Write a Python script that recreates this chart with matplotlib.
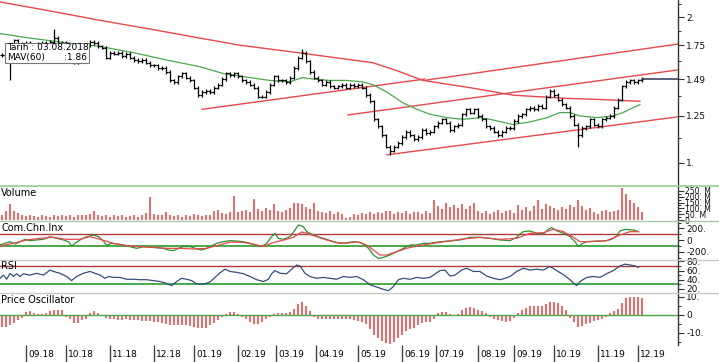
import numpy as np
import matplotlib
matplotlib.use("Agg")
import matplotlib.pyplot as plt
from matplotlib.lines import Line2D
from matplotlib.patches import Rectangle
from matplotlib.ticker import NullFormatter

# ---------------- data (one value every 2nd trading day) ----------------
close = [
    1.67, 1.71, 1.75, 1.79, 1.75, 1.76, 1.77, 1.74,
    1.73, 1.76, 1.77, 1.76, 1.78, 1.81, 1.77, 1.77,
    1.73, 1.67, 1.61, 1.67, 1.71, 1.75, 1.78, 1.77,
    1.74, 1.73, 1.65, 1.69, 1.68, 1.69, 1.66, 1.68,
    1.65, 1.63, 1.62, 1.63, 1.61, 1.59, 1.59, 1.57,
    1.57, 1.54, 1.48, 1.47, 1.51, 1.53, 1.50, 1.48,
    1.43, 1.38, 1.40, 1.41, 1.40, 1.43, 1.45, 1.49,
    1.53, 1.52, 1.53, 1.51, 1.48, 1.47, 1.45, 1.43,
    1.37, 1.37, 1.40, 1.45, 1.51, 1.48, 1.48, 1.47,
    1.50, 1.57, 1.65, 1.69, 1.62, 1.54, 1.50, 1.48,
    1.45, 1.47, 1.44, 1.43, 1.44, 1.45, 1.43, 1.45,
    1.44, 1.45, 1.43, 1.38, 1.34, 1.23, 1.19, 1.14,
    1.08, 1.06, 1.08, 1.10, 1.13, 1.16, 1.14, 1.12,
    1.13, 1.17, 1.15, 1.16, 1.19, 1.21, 1.23, 1.21,
    1.17, 1.19, 1.20, 1.26, 1.29, 1.27, 1.29, 1.25,
    1.23, 1.19, 1.18, 1.16, 1.14, 1.16, 1.18, 1.18,
    1.22, 1.25, 1.26, 1.29, 1.30, 1.29, 1.31, 1.30,
    1.37, 1.41, 1.38, 1.35, 1.32, 1.30, 1.25, 1.20,
    1.14, 1.18, 1.19, 1.23, 1.20, 1.19, 1.23, 1.24,
    1.25, 1.30, 1.35, 1.44, 1.47, 1.48, 1.47, 1.48,
    1.49]

volume_m = [
    45, 80, 135, 75, 60, 40, 35, 40,
    35, 30, 40, 35, 30, 40, 35, 45,
    35, 40, 30, 40, 45, 40, 50, 80,
    45, 35, 40, 30, 45, 35, 40, 30,
    35, 45, 30, 40, 60, 195, 55, 45,
    40, 65, 45, 35, 40, 30, 45, 35,
    55, 40, 35, 45, 40, 80, 90, 60,
    55, 70, 205, 65, 75, 90, 70, 180,
    95, 80, 100, 85, 135, 80, 70, 90,
    100, 150, 145, 140, 110, 95, 150, 80,
    70, 60, 75, 55, 70, 50, 20, 25,
    55, 45, 60, 50, 65, 55, 70, 60,
    75, 80, 55, 65, 60, 75, 55, 65,
    70, 55, 75, 60, 170, 120, 95, 150,
    110, 130, 100, 140, 95, 120, 150, 75,
    60, 80, 55, 70, 90, 60, 75, 85,
    60, 125, 90, 110, 80, 120, 170, 95,
    140, 120, 100, 85, 110, 95, 130, 110,
    170, 120, 90, 100, 70, 55, 75, 85,
    65, 80, 90, 275, 220, 170, 150, 110,
    70]

price_osc = [
    -6.5, -6.5, -5.5, -4.5, -3, -1.5, 1.5, 2,
    1, 0.5, 0.5, 1, 2, 2.5, 3, 2.5,
    -1, -2.5, -4.5, -4.5, -3, -2, 1, 2,
    1, 0, -1.5, -2.5, -2.5, -2.8, -2.8, -2.5,
    -2.8, -3, -3, -3.2, -3.5, -3.5, -4, -4,
    -4.5, -5, -5.5, -5.8, -5.8, -5.5, -5.5, -6,
    -6.5, -7, -7.4, -7, -5.5, -4.5, -3, -1,
    0.5, 1.5, 1.5, 0.5, -1, -2.5, -4, -5,
    -5, -4, -2.5, -1, 0.5, 1, 1, 1,
    1.5, 3.5, 6, 7.4, 5, 2, -1, -2,
    -2.4, -2.4, -2.4, -2.2, -2.2, -2, -2.2, -2.5,
    -2.8, -3.2, -4, -5, -8, -11, -13, -14.5,
    -15.5, -16.3, -15, -13, -11, -9, -8, -7,
    -5.5, -4.5, -4, -3.7, -2, 1, 1.8, 1.5,
    0.5, 0, 0.5, 2.5, 4, 4.3, 4, 3,
    2, 1, -1, -2, -3, -3.5, -3.7, -3.2,
    -1.5, 1, 2.5, 4, 4.8, 5, 5, 5.2,
    6, 7, 7.4, 6.5, 5, 2.5, -1.5, -4,
    -6.5, -6, -5, -4.5, -3.5, -3, -2.5, -1,
    1, 2, 3.5, 6.5, 9.5, 10, 10, 9.8,
    9.3]

# long wicks that stick out of the normal bar range
wick_day = [5, 27, 151, 195, 289]
wick_price = [1.48, 1.89, 1.72, 1.04, 1.08]

mav60_day = [0, 15, 33.5, 50, 66.5, 83.5, 100, 111.5, 125, 135, 145, 151, 156.5,
             165, 173.5, 181.5, 186.5, 193.5, 201.5, 208.5, 215, 223.5, 231.5,
             240, 245, 256.5, 265, 273.5, 280, 285, 290, 298.5, 306.5, 311.5,
             316.5, 320]
mav60 = [1.85, 1.81, 1.77, 1.74, 1.69, 1.63, 1.58, 1.53, 1.50, 1.48, 1.47, 1.50,
         1.49, 1.48, 1.48, 1.47, 1.45, 1.40, 1.33, 1.29, 1.26, 1.24, 1.23, 1.24,
         1.23, 1.20, 1.215, 1.24, 1.27, 1.27, 1.25, 1.24, 1.25, 1.27, 1.30, 1.32]

ma_long_day = [0, 25, 50, 75, 100, 120, 148.5, 186.5, 198.5, 211.5, 235, 256.5,
               281.5, 303.5, 320]
ma_long = [2.15, 2.06, 1.97, 1.89, 1.81, 1.75, 1.69, 1.61, 1.55, 1.48, 1.43,
           1.38, 1.36, 1.35, 1.34]

# trend lines: day0, price0, day1, price1
trend_lines = [
    (101, 1.29, 212.5, 1.49),
    (213.5, 1.483, 339, 1.76),
    (174, 1.256, 338.5, 1.555),
    (193.5, 1.039, 338.5, 1.244),
]
last_price = 1.49

cci_day = [0, 2.5, 5, 7.5, 10, 12.5, 15, 18.3, 21.7, 25, 28.3, 31.7, 34.2, 35.8,
           37.5, 40, 42.5, 45, 46.7, 49.2, 51.7, 53.3, 55.8, 58.3, 61.7, 65, 68.3,
           71.7, 75, 78.3, 81.7, 84.2, 86.7, 89.2, 91.7, 95, 98.3, 100.8, 103.3,
           106.7, 108.3, 111.7, 115, 118.3, 121.7, 125, 128.3, 130.8, 133.3, 135.8,
           137.5, 139.2, 141.7, 145, 147.5, 149.2, 151.7, 153.3, 156.7, 160, 163.3,
           166.7, 170, 173.3, 176.7, 180, 182.5, 185, 186.7, 189.2, 191.7, 195,
           198.3, 201.7, 205, 208.3, 211.7, 215, 220, 225, 230, 235, 240, 245, 250,
           255, 258.3, 260, 261.7, 265, 268.3, 271.7, 274.2, 275.8, 278.3, 281.7,
           285, 287.5, 289.2, 290.8, 293.3, 298.3, 302.5, 305.8, 308.3, 310, 312.5,
           316.7, 319.2]
cci = [-83, -54, -26, -66, -26, 14, -9, 3, 14, 60, 31, 3, -26, -100,
       -54, 3, 48, 71, 88, 60, -15, -89, -54, -66, -83, -111, -140,
       -111, -123, -129, -140, -168, -180, -140, -111, -111, -146, -168, -140,
       -83, -54, -26, -9, -15, -26, -54, -83, -111, -54, 60,
       117, 31, 14, 60, 174, 259, 231, 145, 88, 48, 14,
       -26, -54, -43, -26, -37, -83, -168, -254, -311, -294, -254,
       -197, -140, -83, -83, -54, -54, -26, -15, 3, 48, 48, 31, 3,
       -9, 48, 105, 145, 157, 117, 105, 185, 214, 162, 117,
       60, -26, -111, -66, -26, -15, -15, 14, 71, 157, 185,
       174, 145]

cci_sig_day = [0, 6.7, 13.3, 20, 26.7, 33.3, 40, 45, 50, 56.7, 63.3, 70, 76.7,
               83.3, 90, 96.7, 103.3, 110, 115, 121.7, 128.3, 131.7, 136.7, 141.7,
               146.7, 150.8, 153.3, 158.3, 163.3, 168.3, 173.3, 178.3, 183.3, 186.7,
               190, 193.3, 198.3, 203.3, 208.3, 220, 230, 240, 250, 258.3, 265,
               271.7, 276.7, 281.7, 286.7, 290, 295, 303.3, 310, 315, 319.2]
cci_sig = [-100, -54, 3, 31, 48, 14, 14, 60, 14, -54, -94, -111, -123,
           -140, -140, -151, -140, -80, -35, -37, -83, -105, -40, 0,
           48, 140, 117, 60, 3, -43, -54, -26, -83, -168,
           -254, -254, -197, -140, -100, -37, 14, 48, 14, 31, 117,
           128, 185, 145, 48, -26, -26, -9, 88, 145, 145]

rsi_day = [0, 1.7, 3.3, 5, 6.7, 8.3, 10, 11.7, 15, 18.3, 21.7, 25, 26.7, 30,
           33.3, 35.8, 38.3, 41.7, 45, 47.5, 50, 52.5, 54.2, 56.7, 60, 63.3,
           66.7, 70, 73.3, 76.7, 80, 83.3, 85.8, 88.3, 90.8, 93.3, 95.8, 98.3,
           101.7, 105, 107.5, 110, 112.5, 115, 118.3, 121.7, 125, 128.3, 131.7,
           134.2, 135.8, 137.5, 140, 143.3, 145.8, 148.3, 150, 152.5, 155, 158.3,
           161.7, 165, 168.3, 171.7, 175, 178.3, 181.7, 185, 188.3, 191.7, 194.2,
           196.7, 199.2, 201.7, 205, 208.3, 211.7, 215, 220, 222.5, 225, 227.5,
           230.8, 233.3, 236.7, 240, 243.3, 246.7, 250, 252.5, 255, 258.3, 261.7,
           265, 268.3, 271.7, 275, 278.3, 281.7, 285, 288.3, 290, 293.3, 296.7,
           300, 303.3, 306.7, 310, 312.5, 315, 317.5, 319.2]
rsi = [43, 50, 41, 54, 47, 53, 47, 53, 50, 54, 50, 61, 58, 54,
       47, 38, 47, 54, 58, 54, 50, 43, 47, 45, 45, 41,
       41, 40, 40, 38, 36, 32, 27, 36, 43, 41, 38, 31,
       30, 35, 45, 55, 63, 58, 56, 53, 47, 40, 36,
       41, 53, 60, 54, 53, 63, 72, 70, 54, 47, 43,
       45, 43, 41, 47, 45, 47, 40, 29, 24, 19, 16,
       25, 40, 43, 41, 45, 43, 45, 60, 61, 48, 50,
       61, 65, 58, 58, 48, 43, 40, 43, 47, 58, 65,
       61, 63, 61, 69, 60, 51, 40, 27, 36, 45, 47,
       45, 53, 60, 70, 74, 72, 70, 67]

month_start = [13, 33, 55, 77, 97, 119, 138, 158, 179, 201, 218, 239, 257, 277, 299, 319]
month_labels = ["09.18", "10.18", "11.18", "12.18", "01.19", "02.19", "03.19", "04.19",
                "05.19", "06.19", "07.19", "08.19", "09.19", "10.19", "11.19", "12.19"]

# ---------------- layout ----------------
W, H = 719, 362
RIGHT = 678
GREEN = "#4aa84a"
RED = "#e8484d"
DARKRED = "#b03a3a"
BAR_RED = "#ee6b6b"
AXC = "#333333"

fig = plt.figure(figsize=(W / 100, H / 100), dpi=100)
fig.patch.set_facecolor("white")


def panel(top, bottom):
    a = fig.add_axes([0, 1 - bottom / H, RIGHT / W, (bottom - top) / H])
    a.set_xlim(0, RIGHT / 2)
    for s in ["top", "left", "bottom"]:
        a.spines[s].set_visible(False)
    a.spines["right"].set_color(AXC)
    a.spines["right"].set_linewidth(1.0)
    a.yaxis.tick_right()
    a.set_xticks([])
    a.tick_params(axis="y", which="major", direction="out", length=4, width=0.8,
                  pad=2, labelsize=6.5, colors=AXC, labelcolor="#111111")
    a.tick_params(axis="y", which="minor", direction="out", length=2, width=0.7, colors=AXC)
    a.patch.set_alpha(0)
    return a


ax = panel(0, 185)
ax_vol = panel(186, 220)
ax_cci = panel(221, 260)
ax_rsi = panel(260, 293)
ax_osc = panel(293, 345)
ax_date = panel(345, 362)
ax_date.spines["right"].set_visible(False)
ax_date.set_yticks([])
ax_date.set_ylim(0, 1)

# ---------------- price panel ----------------
c = np.array(close)
day = 1 + 2 * np.arange(len(c))
o = np.r_[c[0], c[:-1]]
hi = np.maximum(o, c) * 1.008
lo = np.minimum(o, c) * 0.992
ax.set_yscale("log")
ax.set_ylim(0.90, 2.17)

ax.plot(ma_long_day, ma_long, color=RED, lw=1.0)
for d0, p0, d1, p1 in trend_lines:
    ax.plot([d0, d1], [p0, p1], color=RED, lw=1.0)
ax.plot(mav60_day, mav60, color=GREEN, lw=0.9)

ax.vlines(day, lo, hi, color="black", lw=0.9)
ax.hlines(o, day - 0.8, day, color="black", lw=0.9)
ax.hlines(c, day, day + 0.8, color="black", lw=0.9)
wd = np.array(wick_day)
ax.vlines(wd, c[(wd - 1) // 2], wick_price, color="black", lw=0.9)
ax.plot([day[-1], RIGHT / 2], [last_price, last_price], color="#3c4660", lw=1.2)

ax.set_yticks([1.0, 1.25, 1.49, 1.75, 2.0])
ax.set_yticklabels(["1.", "1.25", "1.49", "1.75", "2."])
ax.set_yticks([1.125, 1.375, 1.625, 1.875, 2.125], minor=True)
ax.yaxis.set_minor_formatter(NullFormatter())

# info box
box = Rectangle((5 / W, 1 - 63 / H), 84 / W, 20 / H, transform=fig.transFigure,
                facecolor="white", edgecolor="#777777", lw=0.8, zorder=5)
fig.add_artist(box)
fig.text(7 / W, 1 - 48 / H, "Tarih : 03.08.2018", fontsize=6.5, va="center", zorder=6)
fig.text(7 / W, 1 - 57.5 / H, "MAV(60)", fontsize=6.5, va="center", zorder=6)
fig.text(87 / W, 1 - 57.5 / H, ":1.86", fontsize=6.5, va="center", ha="right", zorder=6)

# ---------------- volume ----------------
ax_vol.bar(day, volume_m, width=1.0, color=BAR_RED, edgecolor="none")
ax_vol.set_ylim(0, 293)
ax_vol.set_yticks([0, 50, 100, 150, 200, 250])
ax_vol.set_yticklabels(["0", "50. M", "100. M", "150. M", "200. M", "250. M"])
ax_vol.set_yticks(np.arange(25, 275, 50), minor=True)
ax_vol.tick_params(axis="y", labelsize=5.5, pad=1)
ax_vol.text(0.002, 0.78, "Volume", transform=ax_vol.transAxes, fontsize=7, va="center")

# ---------------- CCI ----------------
ax_cci.set_ylim(-339, 327)
ax_cci.axhline(100, color=DARKRED, lw=1.0)
ax_cci.axhline(-100, color=GREEN, lw=1.4)
ax_cci.plot(cci_day, cci, color="#2f8f2f", lw=0.9)
ax_cci.plot(cci_sig_day, cci_sig, color=RED, lw=0.9)
ax_cci.set_yticks([-200, 0, 200])
ax_cci.set_yticklabels(["-200.", "0", "200."])
ax_cci.set_yticks([-300, -100, 100, 300], minor=True)
ax_cci.text(0.002, 0.82, "Com.Chn.Inx", transform=ax_cci.transAxes, fontsize=7, va="center")

# ---------------- RSI ----------------
ax_rsi.set_ylim(11, 83)
ax_rsi.axhline(70, color=DARKRED, lw=1.0)
ax_rsi.axhline(30, color=GREEN, lw=1.4)
ax_rsi.plot(rsi_day, rsi, color="#33507a", lw=0.9)
ax_rsi.set_yticks([20, 40, 60, 80])
ax_rsi.set_yticklabels(["20.", "40.", "60.", "80."])
ax_rsi.set_yticks([30, 50, 70], minor=True)
ax_rsi.text(0.002, 0.82, "RSI", transform=ax_rsi.transAxes, fontsize=7, va="center")

# ---------------- Price oscillator ----------------
ax_osc.set_ylim(-16.7, 12.2)
ax_osc.bar(day, price_osc, width=1.0, color=BAR_RED, edgecolor="none")
ax_osc.axhline(0, color=GREEN, lw=1.0)
ax_osc.set_yticks([-10, 0, 10])
ax_osc.set_yticklabels(["-10.", "0", "10."])
ax_osc.set_yticks([-15, -5, 5], minor=True)
ax_osc.text(0.002, 0.87, "Price Oscillator", transform=ax_osc.transAxes, fontsize=7, va="center")

# ---------------- dates ----------------
ax_date.vlines(month_start, 0, 1, color="#444444", lw=1.0)
for m, lab in zip(month_start, month_labels):
    ax_date.text(m + 1.2, 0.45, lab, fontsize=6.5, va="center", ha="left")

# ---------------- panel separators ----------------
def hline(y, color, lw):
    fig.add_artist(Line2D([0, 1], [1 - y / H, 1 - y / H], transform=fig.transFigure,
                          color=color, lw=lw))

hline(185.5, "#8fd08f", 1.2)
hline(220.5, "#a8c8a8", 1.0)
hline(260, "#c8c8c8", 1.0)
hline(293, "#c8c8c8", 1.0)

fig.savefig("out.png", dpi=100)
